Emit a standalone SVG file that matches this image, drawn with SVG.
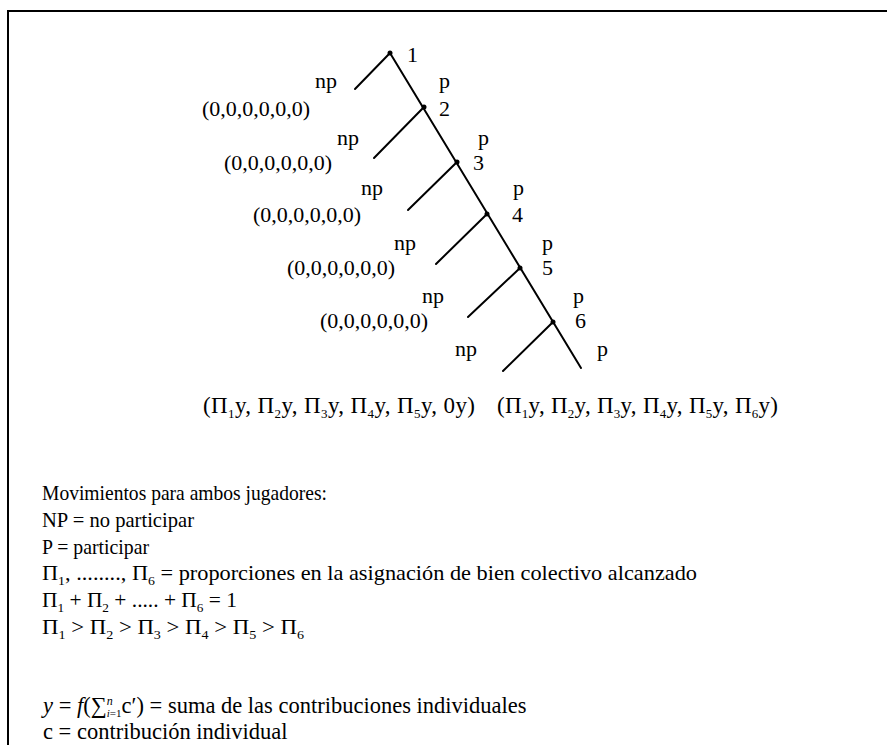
<svg xmlns="http://www.w3.org/2000/svg" width="887" height="745" viewBox="0 0 887 745">
<style>
.t{font-family:"Liberation Serif","Times New Roman","DejaVu Serif",serif;font-size:22px;fill:#000}
.p{font-family:"Liberation Serif","Times New Roman","DejaVu Serif",serif;font-size:23px;fill:#000}
.u{font-family:"Liberation Serif","Times New Roman","DejaVu Serif",serif;font-size:21px;fill:#000}
.w{font-family:"Liberation Serif","Times New Roman","DejaVu Serif",serif;font-size:22.5px;fill:#000}
.s{font-size:13px}
.x{font-size:22.49px}
.xu{font-size:20.99px}
.e{stroke:#000;stroke-width:2;fill:none;stroke-linecap:round}
.b{stroke:#000;stroke-width:2;fill:none}
.d{fill:#000}
</style>
<g id="frame"><path class="b" d="M8,745 V11 H887"/></g>
<g id="connectors">
<path class="e" d="M390,53 L581,368"/>
<path class="e" d="M390,53 L355,89"/>
<path class="e" d="M424,107 L374,158"/>
<path class="e" d="M457,162 L408,210"/>
<path class="e" d="M487,214 L436,264"/>
<path class="e" d="M520,268 L468,317"/>
<path class="e" d="M553,322 L503,371"/>
</g>
<g id="node1"><circle class="d" cx="390" cy="53" r="2.5"/><text class="t" x="407" y="62">1</text></g>
<g id="node2"><circle class="d" cx="424" cy="107" r="2.5"/><text class="t" x="439" y="116">2</text></g>
<g id="node3"><circle class="d" cx="457" cy="162" r="2.5"/><text class="t" x="473" y="170">3</text></g>
<g id="node4"><circle class="d" cx="487" cy="214" r="2.5"/><text class="t" x="512" y="222">4</text></g>
<g id="node5"><circle class="d" cx="520" cy="268" r="2.5"/><text class="t" x="542" y="275">5</text></g>
<g id="node6"><circle class="d" cx="553" cy="322" r="2.5"/><text class="t" x="575" y="328">6</text></g>
<g id="labels">
<text class="t" x="315" y="88">np</text><text class="t" x="439" y="88">p</text><text class="t" x="202" y="116">(0,0,0,0,0,0)</text>
<text class="t" x="337" y="145">np</text><text class="t" x="478" y="145">p</text><text class="t" x="224" y="170">(0,0,0,0,0,0)</text>
<text class="t" x="361" y="195">np</text><text class="t" x="513" y="195">p</text><text class="t" x="253" y="222">(0,0,0,0,0,0)</text>
<text class="t" x="394" y="250">np</text><text class="t" x="542" y="250">p</text><text class="t" x="287" y="275">(0,0,0,0,0,0)</text>
<text class="t" x="422" y="303">np</text><text class="t" x="573" y="303">p</text><text class="t" x="320" y="328">(0,0,0,0,0,0)</text>
<text class="t" x="455" y="356">np</text><text class="t" x="597" y="356">p</text>
</g>
<g id="payoffs">
<text class="p" x="203" y="413" textLength="272">(Π<tspan class="s" dy="5">1</tspan><tspan dy="-5">y, Π</tspan><tspan class="s" dy="5">2</tspan><tspan dy="-5">y, Π</tspan><tspan class="s" dy="5">3</tspan><tspan dy="-5">y, Π</tspan><tspan class="s" dy="5">4</tspan><tspan dy="-5">y, Π</tspan><tspan class="s" dy="5">5</tspan><tspan dy="-5">y, 0y)</tspan></text>
<text class="p" x="497" y="413" textLength="281">(Π<tspan class="s" dy="5">1</tspan><tspan dy="-5">y, Π</tspan><tspan class="s" dy="5">2</tspan><tspan dy="-5">y, Π</tspan><tspan class="s" dy="5">3</tspan><tspan dy="-5">y, Π</tspan><tspan class="s" dy="5">4</tspan><tspan dy="-5">y, Π</tspan><tspan class="s" dy="5">5</tspan><tspan dy="-5">y, Π</tspan><tspan class="s" dy="5">6</tspan><tspan dy="-5">y)</tspan></text>
</g>
<g id="legend">
<text class="u" x="42" y="500" textLength="285" lengthAdjust="spacingAndGlyphs">Movimientos para ambos jugadores:</text>
<text class="u" x="42" y="527" textLength="152" lengthAdjust="spacingAndGlyphs">NP = no participar</text>
<text class="u" x="42" y="554" textLength="107" lengthAdjust="spacingAndGlyphs">P = participar</text>
<text class="u" x="42" y="580" textLength="655" lengthAdjust="spacingAndGlyphs">Π<tspan class="s" dy="5">1</tspan><tspan dy="-5">, ........, Π</tspan><tspan class="s" dy="5">6</tspan><tspan dy="-5"> = proporciones en la asignaci</tspan><tspan class="xu">&#243;</tspan><tspan>n de bien colectivo alcanzado</tspan></text>
<text class="u" x="42" y="607" textLength="195" lengthAdjust="spacingAndGlyphs">Π<tspan class="s" dy="5">1</tspan><tspan dy="-5"> + Π</tspan><tspan class="s" dy="5">2</tspan><tspan dy="-5"> + ..... + Π</tspan><tspan class="s" dy="5">6</tspan><tspan dy="-5"> = 1</tspan></text>
<text class="u" x="42" y="634" textLength="262" lengthAdjust="spacingAndGlyphs">Π<tspan class="s" dy="5">1</tspan><tspan dy="-5"> &gt; Π</tspan><tspan class="s" dy="5">2</tspan><tspan dy="-5"> &gt; Π</tspan><tspan class="s" dy="5">3</tspan><tspan dy="-5"> &gt; Π</tspan><tspan class="s" dy="5">4</tspan><tspan dy="-5"> &gt; Π</tspan><tspan class="s" dy="5">5</tspan><tspan dy="-5"> &gt; Π</tspan><tspan class="s" dy="5">6</tspan></text>
<text class="w" x="43" y="713"><tspan font-style="italic">y</tspan> = <tspan font-style="italic">f</tspan>(<tspan class="x">&#8721;</tspan><tspan font-size="12" font-style="italic" dy="-8">n</tspan><tspan font-size="11" font-style="italic" dx="-6" dy="12">i</tspan><tspan font-size="11">=1</tspan><tspan dy="-4">c</tspan><tspan class="x">&#8242;</tspan><tspan>) = suma de las contribuciones individuales</tspan></text>
<text class="w" x="43" y="739">c = contribuci<tspan class="x">&#243;</tspan>n individual</text>
</g>
</svg>
